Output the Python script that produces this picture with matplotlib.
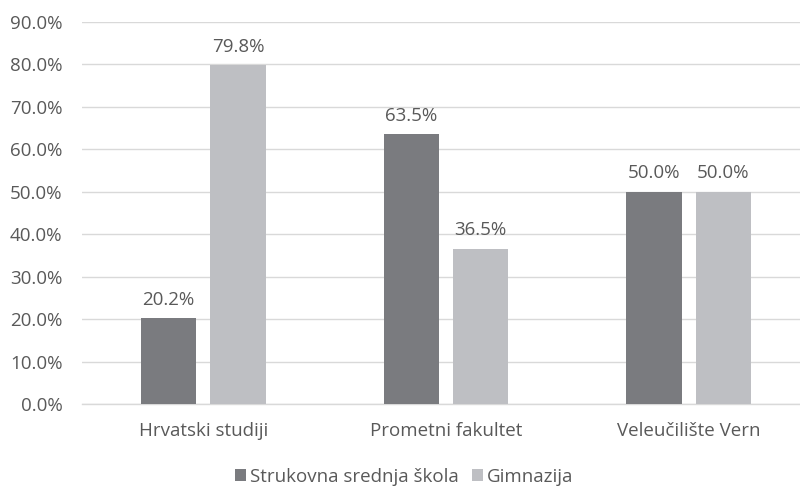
import matplotlib
matplotlib.use("Agg")
import matplotlib.pyplot as plt
import numpy as np

plt.rcParams["font.family"] = ["Open Sans", "DejaVu Sans"]

categories = ["Hrvatski studiji", "Prometni fakultet", "Veleučilište Vern"]
series_names = ["Strukovna srednja škola", "Gimnazija"]
strukovna = [20.2, 63.5, 50.0]
gimnazija = [79.8, 36.5, 50.0]

colors = ["#7a7b7f", "#bebfc3"]
text_col = "#595959"
fs = 13.5

fig = plt.figure(figsize=(8, 4.86), dpi=100)
ax = fig.add_axes([82/800, 82/486, 728/800, 382/486])

x = np.arange(len(categories))
w = 0.227
off = 0.143
for vals, name, col, d in [(strukovna, series_names[0], colors[0], -off),
                           (gimnazija, series_names[1], colors[1], off)]:
    bars = ax.bar(x + d, vals, w, color=col, label=name, zorder=3)
    for b, v in zip(bars, vals):
        ax.annotate(f"{v:.1f}%", (b.get_x() + b.get_width()/2, v),
                    xytext=(0, 7), textcoords="offset points",
                    ha="center", va="bottom", fontsize=fs, color=text_col)

ax.set_xlim(-0.5, 2.5)
ax.set_ylim(0, 90)
ax.set_yticks(np.arange(0, 91, 10))
ax.set_yticklabels([f"{t:.1f}%" for t in np.arange(0, 91, 10)])
ax.set_xticks(x)
ax.set_xticklabels(categories)
ax.yaxis.grid(True, color="#d9d9d9", linewidth=1, zorder=0)
ax.tick_params(axis="both", length=0, labelsize=fs, labelcolor=text_col)
ax.tick_params(axis="y", pad=14)
ax.tick_params(axis="x", pad=13)
for s in ["top", "right", "left"]:
    ax.spines[s].set_visible(False)
ax.spines["bottom"].set_color("#d9d9d9")
ax.spines["bottom"].set_linewidth(1)

leg = fig.legend(loc="center", bbox_to_anchor=(404/800, 1 - 477/486), ncol=2,
                 frameon=False, fontsize=fs, handlelength=0.6, handleheight=0.6,
                 handletextpad=0.2, columnspacing=0.7)
for t in leg.get_texts():
    t.set_color(text_col)

fig.savefig("out.png", dpi=100)
